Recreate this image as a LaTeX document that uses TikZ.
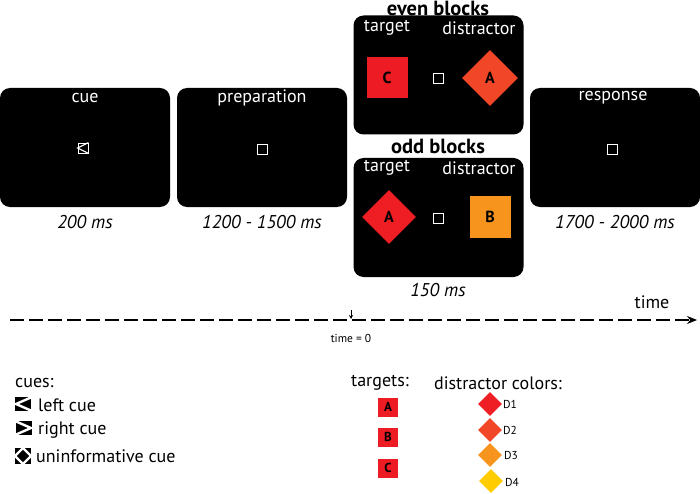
\documentclass[tikz,border=0pt]{standalone}
\usepackage{fontspec}
\setmainfont{PT Sans}
\usepackage{tikz}
\usetikzlibrary{shapes.geometric,arrows.meta}

\definecolor{tgtred}{RGB}{237,28,36}
\definecolor{dOne}{RGB}{238,30,36}
\definecolor{dTwo}{RGB}{241,70,40}
\definecolor{dThree}{RGB}{247,148,29}
\definecolor{dFour}{RGB}{255,204,0}

\tikzset{
	screen/.style={fill=black, rounded corners=10pt, minimum width=170pt, minimum height=119pt, inner sep=0pt},
	lbl/.style={text=white, font=\fontsize{18}{21}\selectfont, inner sep=0pt},
	dur/.style={font=\fontsize{18.5}{21}\selectfont\itshape, inner sep=0pt},
	head/.style={font=\fontsize{20.5}{23}\selectfont\bfseries, inner sep=0pt},
	fix/.style={draw=white, line width=0.8pt, minimum size=10pt, inner sep=0pt},
	tgtbox/.style={fill=tgtred, minimum size=41pt, inner sep=0pt, font=\fontsize{16}{18}\selectfont\bfseries},
	dstbox/.style={diamond, aspect=1, minimum size=56pt, inner sep=0pt, font=\fontsize{16}{18}\selectfont\bfseries},
	legtgt/.style={fill=tgtred, minimum width=20pt, minimum height=19pt, inner sep=0pt, font=\fontsize{13}{15}\selectfont\bfseries},
	legdst/.style={diamond, aspect=1, minimum size=24pt, inner sep=0pt},
	small/.style={font=\fontsize{11.5}{13}\selectfont, inner sep=0pt},
	legtxt/.style={font=\fontsize{18}{21}\selectfont, inner sep=0pt, anchor=west}
}

\begin{document}
\begin{tikzpicture}[x=1pt,y=-1pt]
				\useasboundingbox (0,0) rectangle (700,494);
				
				% screens
				\node[screen] (cue) at (85,147.5) {};
				\node[screen] (prep) at (262,147.5) {};
				\node[screen] (even) at (438.5,75) {};
				\node[screen] (odd) at (438.5,217.5) {};
				\node[screen] (resp) at (615,147.5) {};
				
				\node[lbl] (cuelbl) at (85,98) {cue};
				\node[lbl] (preplbl) at (262,98) {preparation};
				\node[lbl] (resplbl) at (613,98) {response};
				\node[head] (evenhd) at (438,8) {even blocks};
				\node[head] (oddhd) at (438,146) {odd blocks};
				\node[lbl] (eventgt) at (387,28) {target};
				\node[lbl] (evendst) at (479,28) {distractor};
				\node[lbl] (oddtgt) at (387,168) {target};
				\node[lbl] (odddst) at (479,168) {distractor};
				
				% cue icon on screen
				\node[fix] (cueicon) at (83,148) {};
				\draw[white, line width=1.2pt] (cueicon.north east) -- (cueicon.west) -- (cueicon.south east);
				\node[fix] (prepfix) at (262,149) {};
				\node[fix] (respfix) at (612,149) {};
				\node[fix] (evenfix) at (438,78) {};
				\node[fix] (oddfix) at (438,218) {};
				
				% stimuli
				\node[tgtbox] (evenC) at (387,78) {C};
				\node[dstbox, fill=dTwo] (evenA) at (490,78) {A};
				\node[dstbox, fill=dOne, minimum size=54pt] (oddA) at (389,217) {A};
				\node[tgtbox, fill=dThree] (oddB) at (490,217) {B};
				
				% durations
				\node[dur] (d1) at (85,222) {200 ms};
				\node[dur] (d2) at (262,222) {1200 - 1500 ms};
				\node[dur] (d3) at (438,290) {150 ms};
				\node[dur] (d4) at (615,222) {1700 - 2000 ms};
				
				% time axis
				\coordinate (tstart) at (10,320);
				\coordinate (tend) at (697,320);
				\draw[line width=1.3pt, dash pattern=on 14pt off 5pt, -{Stealth[length=10pt,width=8pt]}] (tstart) -- (tend);
				\node[lbl, text=black] (timelbl) at (652,302) {time};
				\coordinate (zerotop) at (351,310);
				\coordinate (zerobot) at (351,319);
				\draw[line width=0.8pt, -{Stealth[length=4pt,width=4pt]}] (zerotop) -- (zerobot);
				\node[small] (zerolbl) at (351,338) {time = 0};
				
				% legend: cues
				\node[legtxt] (cueshd) at (15,383) {cues:};
				\begin{scope}
					\clip (15,397) rectangle (31,411);
					\fill[black] (15,397) rectangle (31,411);
					\draw[white, line width=2.4pt] (32,397) -- (16,404) -- (32,411);
				\end{scope}
				\node[legtxt] (leftcue) at (38,405) {left cue};
				\begin{scope}
					\clip (16,421) rectangle (32,435);
					\fill[black] (16,421) rectangle (32,435);
					\draw[white, line width=2.4pt] (15,421) -- (31,428) -- (15,435);
				\end{scope}
				\node[legtxt] (rightcue) at (38,430) {right cue};
				\begin{scope}
					\clip (15,448) rectangle (31,464);
					\fill[black] (15,448) rectangle (31,464);
					\draw[white, line width=2.2pt] (23,448) -- (31,456) -- (23,464) -- (15,456) -- cycle;
				\end{scope}
				\node[legtxt] (unicue) at (36,456) {uninformative cue};
				
				% legend: targets
				\node[legtxt, anchor=center] (tgtshd) at (380,383) {targets:};
				\node[legtgt] (legA) at (388,407) {A};
				\node[legtgt] (legB) at (388,437) {B};
				\node[legtgt] (legC) at (388,468) {C};
				
				% legend: distractor colors
				\node[legtxt, anchor=center] (dstshd) at (498,383) {distractor colors:};
				\node[legdst, fill=dOne] (legD1) at (490,404) {};
				\node[legdst, fill=dTwo] (legD2) at (490,430) {};
				\node[legdst, fill=dThree] (legD3) at (490,455) {};
				\node[legdst, fill=dFour] (legD4) at (491,481) {};
				\node[small, anchor=west] (lblD1) at (503,404) {D1};
				\node[small, anchor=west] (lblD2) at (503,430) {D2};
				\node[small, anchor=west] (lblD3) at (504,455) {D3};
				\node[small, anchor=west] (lblD4) at (505,482) {D4};
\end{tikzpicture}
\end{document}
